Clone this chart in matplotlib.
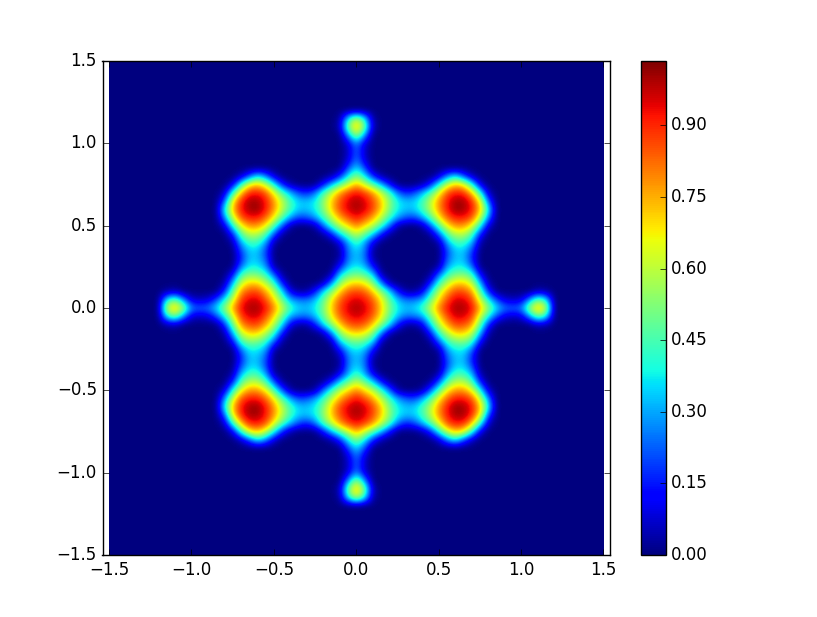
import numpy as np
import matplotlib
matplotlib.use('Agg')
import matplotlib.pyplot as plt
from matplotlib.patches import Rectangle

plt.style.use('classic')
plt.rcParams['ytick.alignment'] = 'center'

# density, upper right quadrant, 0.05 steps from the centre
# rows go up in y, columns go right in x, the other quadrants are its mirror images
quadrant = [
    [1.0, .96, .87, .72, .52, .38, .33, .35, .44, .62, .80, .93, 1.0, 1.0, .93, .76, .54, .36, .26, .24, .27, .58, .76, .62, 0],
    [.96, .92, .84, .68, .48, .33, .25, .26, .30, .50, .70, .86, .96, .95, .88, .62, .38, .20, .08, .06, .08, .28, .52, .38, 0],
    [.87, .84, .72, .54, .37, .14, .03, .02, .10, .36, .60, .76, .87, .86, .78, .48, .16, 0, 0, 0, 0, 0, .05, .03, 0],
    [.72, .68, .54, .28, .04, 0, 0, 0, 0, .15, .44, .60, .72, .72, .62, .32, .03, 0, 0, 0, 0, 0, 0, 0, 0],
    [.52, .48, .37, .04, 0, 0, 0, 0, 0, .02, .24, .44, .52, .54, .46, .13, 0, 0, 0, 0, 0, 0, 0, 0, 0],
    [.38, .33, .14, 0, 0, 0, 0, 0, 0, 0, .03, .30, .38, .38, .25, 0, 0, 0, 0, 0, 0, 0, 0, 0, 0],
    [.33, .25, .03, 0, 0, 0, 0, 0, 0, 0, 0, .22, .33, .33, .15, 0, 0, 0, 0, 0, 0, 0, 0, 0, 0],
    [.35, .26, .02, 0, 0, 0, 0, 0, 0, 0, 0, .20, .34, .34, .20, 0, 0, 0, 0, 0, 0, 0, 0, 0, 0],
    [.44, .30, .10, 0, 0, 0, 0, 0, 0, 0, .03, .30, .44, .44, .32, .03, 0, 0, 0, 0, 0, 0, 0, 0, 0],
    [.62, .50, .36, .15, .02, 0, 0, 0, 0, .02, .22, .47, .60, .60, .47, .15, 0, 0, 0, 0, 0, 0, 0, 0, 0],
    [.80, .70, .60, .44, .24, .03, 0, 0, .03, .22, .46, .68, .78, .78, .66, .40, .07, 0, 0, 0, 0, 0, 0, 0, 0],
    [.93, .86, .76, .60, .44, .30, .22, .20, .30, .47, .68, .84, .92, .92, .86, .62, .26, 0, 0, 0, 0, 0, 0, 0, 0],
    [1.0, .96, .87, .72, .52, .38, .33, .34, .44, .60, .78, .92, 1.02, 1.0, .92, .74, .38, 0, 0, 0, 0, 0, 0, 0, 0],
    [1.0, .95, .86, .72, .54, .38, .33, .34, .44, .60, .78, .92, 1.0, 1.0, .90, .68, .20, 0, 0, 0, 0, 0, 0, 0, 0],
    [.93, .88, .78, .62, .46, .25, .15, .20, .32, .47, .66, .86, .92, .90, .74, .42, .05, 0, 0, 0, 0, 0, 0, 0, 0],
    [.76, .62, .48, .32, .13, 0, 0, 0, .03, .15, .40, .62, .74, .68, .42, .08, 0, 0, 0, 0, 0, 0, 0, 0, 0],
    [.54, .38, .16, .03, 0, 0, 0, 0, 0, 0, .07, .26, .38, .20, .05, 0, 0, 0, 0, 0, 0, 0, 0, 0, 0],
    [.36, .20, 0, 0, 0, 0, 0, 0, 0, 0, 0, 0, 0, 0, 0, 0, 0, 0, 0, 0, 0, 0, 0, 0, 0],
    [.26, .08, 0, 0, 0, 0, 0, 0, 0, 0, 0, 0, 0, 0, 0, 0, 0, 0, 0, 0, 0, 0, 0, 0, 0],
    [.24, .06, 0, 0, 0, 0, 0, 0, 0, 0, 0, 0, 0, 0, 0, 0, 0, 0, 0, 0, 0, 0, 0, 0, 0],
    [.27, .08, 0, 0, 0, 0, 0, 0, 0, 0, 0, 0, 0, 0, 0, 0, 0, 0, 0, 0, 0, 0, 0, 0, 0],
    [.58, .28, 0, 0, 0, 0, 0, 0, 0, 0, 0, 0, 0, 0, 0, 0, 0, 0, 0, 0, 0, 0, 0, 0, 0],
    [.76, .52, .05, 0, 0, 0, 0, 0, 0, 0, 0, 0, 0, 0, 0, 0, 0, 0, 0, 0, 0, 0, 0, 0, 0],
    [.62, .38, .03, 0, 0, 0, 0, 0, 0, 0, 0, 0, 0, 0, 0, 0, 0, 0, 0, 0, 0, 0, 0, 0, 0],
    [0, 0, 0, 0, 0, 0, 0, 0, 0, 0, 0, 0, 0, 0, 0, 0, 0, 0, 0, 0, 0, 0, 0, 0, 0],
]
x_ticks = [-1.5, -1.0, -0.5, 0.0, 0.5, 1.0, 1.5]
y_ticks = [-1.5, -1.0, -0.5, 0.0, 0.5, 1.0, 1.5]
cbar_ticks = [0.00, 0.15, 0.30, 0.45, 0.60, 0.75, 0.90]

q = np.array(quadrant)
right = np.hstack([q[:, :0:-1], q])
full = np.vstack([right[:0:-1], right])
density = np.pad(full, 6)

fig = plt.figure(figsize=(8.17, 6.17), dpi=100, facecolor='white')
ax = fig.add_axes([102.5 / 817, 62 / 617, 507.5 / 817, 494 / 617])
im = ax.imshow(density, cmap='jet', vmin=0, vmax=1.035, origin='lower',
               extent=[-1.525, 1.525, -1.525, 1.525], aspect='auto',
               interpolation='bicubic')
im.set_clip_path(Rectangle((-1.5, -1.5), 3, 3, transform=ax.transData))
ax.set_xlim(-1.54, 1.54)
ax.set_ylim(-1.5, 1.5)
ax.set_xticks(x_ticks)
ax.set_yticks(y_ticks)

cax = fig.add_axes([641 / 817, 62 / 617, 24.5 / 817, 494 / 617])
cbar = fig.colorbar(im, cax=cax, ticks=cbar_ticks, format='%.2f')
cax.tick_params(axis='y', direction='in', right=True, left=False, length=4)

fig.savefig('out.png', dpi=100, facecolor='white')
